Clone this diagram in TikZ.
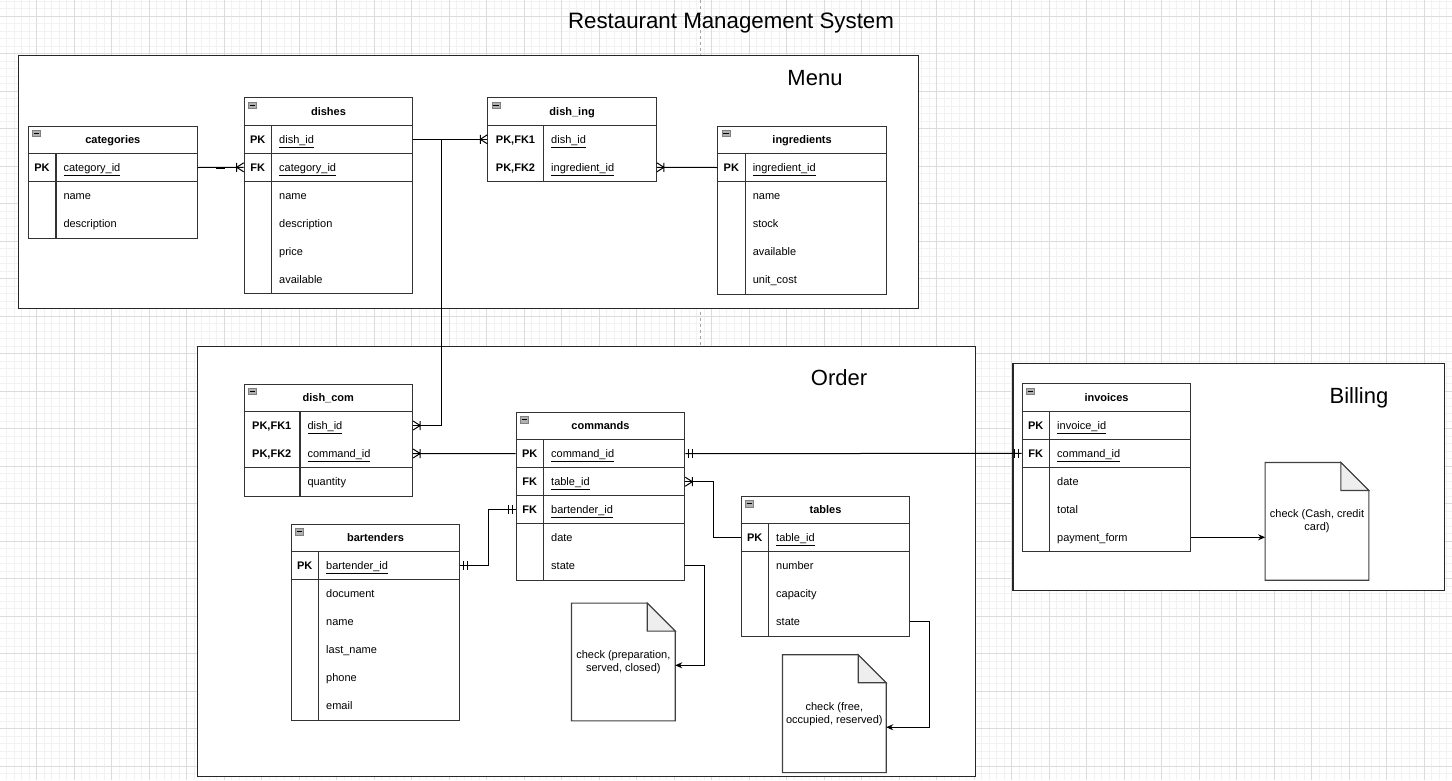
\documentclass[tikz,border=0pt]{standalone}
\usepackage{fontspec}
\setmainfont{Liberation Sans}
\usetikzlibrary{calc,arrows.meta}
\definecolor{gmaj}{HTML}{DCDCDC}
\definecolor{gmin}{HTML}{F2F2F2}
\definecolor{foldc}{HTML}{EEEEEE}
\definecolor{edgec}{HTML}{333333}
\definecolor{iconc}{HTML}{B0B0B0}

\tikzset{
  grpbox/.style={draw=black!85, line width=1.2pt, fill=white, inner sep=0, anchor=north west},
  grplabel/.style={font=\fontsize{22}{26}\selectfont, inner sep=0},
  tabbox/.style={draw=edgec, line width=1.1pt, fill=white, minimum width=168.5pt, inner sep=0, anchor=north west},
  tabline/.style={draw=edgec, line width=1.1pt},
  tabtitle/.style={font=\fontsize{11}{13}\selectfont\bfseries, inner sep=0, text height=7.9pt, text depth=0pt},
  keytxt/.style={font=\fontsize{11}{13}\selectfont\bfseries, inner sep=0, text height=7.9pt, text depth=0pt},
  fldtxt/.style={font=\fontsize{11}{13}\selectfont, anchor=west, inner sep=0, text height=7.9pt, text depth=0pt},
  iconbox/.style={draw=gray, fill=iconc, line width=0.6pt, minimum width=8pt, minimum height=6.5pt, inner sep=0},
  notebox/.style={minimum width=103.3pt, minimum height=117.4pt, inner sep=0},
  notetext/.style={align=center, font=\fontsize{11}{13}\selectfont, inner sep=0},
  noteline/.style={draw=black!75, line width=1.1pt},
  conn/.style={draw=black, line width=1pt},
  arr/.style={conn, -{Stealth[length=7pt,width=6pt]}},
  crowfoot/.pic={\draw[conn] (0,-4.5) -- (7,0) -- (0,4.5) (7,-4.5) -- (7,4.5);},
  twobar/.pic={\draw[conn] (3,-4.5) -- (3,4.5) (7.5,-4.5) -- (7.5,4.5);}
}

\newcommand{\ertab}[6]{%
  \pgfmathsetmacro\ertabh{(#4+1)*28}%
  \node[tabbox, minimum height=\ertabh pt] (#1) at (#2,#3) {};
  \draw[tabline] ($(#1.north west)+(0,-28pt)$) -- ($(#1.north east)+(0,-28pt)$);
  \draw[tabline] ($(#1.north west)+(#5pt,-28pt)$) -- ($(#1.south west)+(#5pt,0)$);
  \node[tabtitle] (#1-title) at ($(#1.north)+(0,-14pt)$) {#6};
  \node[iconbox] (#1-icon) at ($(#1.north west)+(8.7pt,-8pt)$) {};
  \draw[line width=0.8pt] ($(#1-icon.west)+(1.6pt,0)$) -- ($(#1-icon.east)+(-1.6pt,0)$);
}
\newcommand{\ersep}[2]{%
  \draw[tabline] ($(#1.north west)+(0,{-28*(#2+1)*1pt})$) -- ($(#1.north east)+(0,{-28*(#2+1)*1pt})$);
}
\newcommand{\errow}[5]{%
  \node[keytxt] (#1-k#2) at ($(#1.north west)+({#3*0.5pt},{-(14+28*#2)*1pt})$) {#4};
  \node[fldtxt] (#1-f#2) at ($(#1.north west)+({(#3+7.3)*1pt},{-(14+28*#2)*1pt})$) {#5};
}
\newcommand{\notefold}[1]{%
  \draw[noteline, fill=white] (#1.north west) -- ($(#1.north east)+(-28pt,0)$) -- ($(#1.north east)+(0,-28pt)$) -- (#1.south east) -- (#1.south west) -- cycle;
  \draw[noteline, fill=foldc] ($(#1.north east)+(-28pt,0)$) -- ($(#1.north east)+(-28pt,-28pt)$) -- ($(#1.north east)+(0,-28pt)$) -- cycle;
}

\begin{document}
\begin{tikzpicture}[x=1pt,y=-1pt]
\useasboundingbox (0,0) rectangle (1452,780);
\fill[white] (0,0) rectangle (1452,780);
% grid
\foreach \i in {0,...,193} \draw[gmin, line width=0.8pt] ({6.7+7.5*\i},0) -- ++(0,780);
\foreach \i in {0,...,103} \draw[gmin, line width=0.8pt] (0,{1+7.5*\i}) -- ++(1452,0);
\foreach \i in {0,...,37} \draw[gmaj, line width=0.9pt] ({36.7+37.5*\i},0) -- ++(0,780);
\foreach \i in {0,...,20} \draw[gmaj, line width=0.9pt] (0,{16+37.5*\i}) -- ++(1452,0);
\draw[gray!70, dashed, line width=0.8pt] (700.7,0) -- (700.7,780);

% title
\node[grplabel, font=\fontsize{22.3}{26}\selectfont] (title) at (731,23.5) {Restaurant Management System};

% group boxes
\node[grpbox, minimum width=900pt, minimum height=253pt] (menu) at (18,55) {};
\node[grpbox, minimum width=778pt, minimum height=430pt] (order) at (197,346) {};
\node[grpbox, minimum width=431.5pt, minimum height=227pt] (billing) at (1012.3,362.5) {};
\node[grplabel] (menulbl) at (815,78) {Menu};
\node[grplabel] (orderlbl) at (839,378) {Order};
\node[grplabel] (billinglbl) at (1359,397.5) {Billing};

% categories
\ertab{cat}{28}{125.5}{3}{28}{categories}
\ersep{cat}{1}
\errow{cat}{1}{28}{PK}{\underline{category\_id}}
\errow{cat}{2}{28}{}{name}
\errow{cat}{3}{28}{}{description}

% dishes
\ertab{dishes}{243.7}{97.3}{6}{28}{dishes}
\ersep{dishes}{1}
\ersep{dishes}{2}
\errow{dishes}{1}{28}{PK}{\underline{dish\_id}}
\errow{dishes}{2}{28}{FK}{\underline{category\_id}}
\errow{dishes}{3}{28}{}{name}
\errow{dishes}{4}{28}{}{description}
\errow{dishes}{5}{28}{}{price}
\errow{dishes}{6}{28}{}{available}

% dish_ing
\ertab{dishing}{487.3}{97.3}{2}{56.4}{dish\_ing}
\errow{dishing}{1}{56.4}{PK,FK1}{\underline{dish\_id}}
\errow{dishing}{2}{56.4}{PK,FK2}{\underline{ingredient\_id}}

% ingredients
\ertab{ingr}{717.3}{125.5}{5}{28}{ingredients}
\ersep{ingr}{1}
\errow{ingr}{1}{28}{PK}{\underline{ingredient\_id}}
\errow{ingr}{2}{28}{}{name}
\errow{ingr}{3}{28}{}{stock}
\errow{ingr}{4}{28}{}{available}
\errow{ingr}{5}{28}{}{unit\_cost}

% dish_com
\ertab{dishcom}{243.5}{383.5}{3}{56.5}{dish\_com}
\ersep{dishcom}{2}
\errow{dishcom}{1}{56.5}{PK,FK1}{\underline{dish\_id}}
\errow{dishcom}{2}{56.5}{PK,FK2}{\underline{command\_id}}
\errow{dishcom}{3}{56.5}{}{quantity}

% commands
\ertab{cmd}{515.7}{411.7}{5}{28}{commands}
\ersep{cmd}{1}
\ersep{cmd}{2}
\ersep{cmd}{3}
\errow{cmd}{1}{28}{PK}{\underline{command\_id}}
\errow{cmd}{2}{28}{FK}{\underline{table\_id}}
\errow{cmd}{3}{28}{FK}{\underline{bartender\_id}}
\errow{cmd}{4}{28}{}{date}
\errow{cmd}{5}{28}{}{state}

% bartenders
\ertab{bart}{290.7}{523.7}{6}{28}{bartenders}
\ersep{bart}{1}
\errow{bart}{1}{28}{PK}{\underline{bartender\_id}}
\errow{bart}{2}{28}{}{document}
\errow{bart}{3}{28}{}{name}
\errow{bart}{4}{28}{}{last\_name}
\errow{bart}{5}{28}{}{phone}
\errow{bart}{6}{28}{}{email}

% tables
\ertab{tabl}{740.7}{495.7}{4}{28}{tables}
\ersep{tabl}{1}
\errow{tabl}{1}{28}{PK}{\underline{table\_id}}
\errow{tabl}{2}{28}{}{number}
\errow{tabl}{3}{28}{}{capacity}
\errow{tabl}{4}{28}{}{state}

% invoices
\ertab{inv}{1021.7}{383.3}{5}{28}{invoices}
\ersep{inv}{1}
\ersep{inv}{2}
\errow{inv}{1}{28}{PK}{\underline{invoice\_id}}
\errow{inv}{2}{28}{FK}{\underline{command\_id}}
\errow{inv}{3}{28}{}{date}
\errow{inv}{4}{28}{}{total}
\errow{inv}{5}{28}{}{payment\_form}

% notes
\node[notebox] (cmdnote) at (623.35,662) {};
\notefold{cmdnote}
\node[notetext] (cmdnote-text) at (cmdnote.center) {check (preparation,\\served, closed)};
\node[notebox] (tabnote) at (834.35,713.65) {};
\notefold{tabnote}
\node[notetext] (tabnote-text) at (tabnote.center) {check (free,\\occupied, reserved)};
\node[notebox] (invnote) at (1317,521.35) {};
\notefold{invnote}
\node[notetext] (invnote-text) at (invnote.center) {check (Cash, credit\\card)};

% connectors
\draw[conn] (cat.east |- cat-f1) -- (dishes.west |- dishes-f2);
\draw[conn, line width=2pt] ($(cat.east |- cat-f1)+(18pt,0)$) -- ++(9pt,0);
\pic[rotate=180] at (dishes.west |- dishes-f2) {crowfoot};

\draw[conn] (dishes.east |- dishes-f1) -- (dishing.west |- dishing-f1);
\pic[rotate=180] at (dishing.west |- dishing-f1) {crowfoot};

\draw[conn] (dishes.east |- dishes-f1) -- ++(28.5pt,0) |- (dishcom.east |- dishcom-f1);
\pic at (dishcom.east |- dishcom-f1) {crowfoot};

\draw[conn] (ingr.west |- ingr-f1) -- (dishing.east |- dishing-f2);
\pic at (dishing.east |- dishing-f2) {crowfoot};

\draw[conn] (cmd.west |- cmd-f1) -- (dishcom.east |- dishcom-f2);
\pic at (dishcom.east |- dishcom-f2) {crowfoot};

\draw[conn] (cmd.east |- cmd-f1) -- (inv.west |- inv-f2);
\pic at (cmd.east |- cmd-f1) {twobar};
\pic[rotate=180] at (inv.west |- inv-f2) {twobar};

\draw[conn] (cmd.east |- cmd-f2) -- ++(28pt,0) |- (tabl.west |- tabl-f1);
\pic at (cmd.east |- cmd-f2) {crowfoot};

\draw[conn] (bart.east |- bart-f1) -- ++(28pt,0) |- (cmd.west |- cmd-f3);
\pic at (bart.east |- bart-f1) {twobar};
\pic[rotate=180] at (cmd.west |- cmd-f3) {twobar};

\draw[arr] (cmd.east |- cmd-f5) -- ++(19pt,0) |- ($(cmdnote.east)+(0,-3.3pt)$);
\draw[arr] (tabl.east |- tabl-f4) -- ++(19pt,0) |- ($(tabnote.east)+(0,-13.6pt)$);
\draw[arr] (inv.east |- inv-f5) -- (invnote.west |- inv-f5);
\end{tikzpicture}
\end{document}
